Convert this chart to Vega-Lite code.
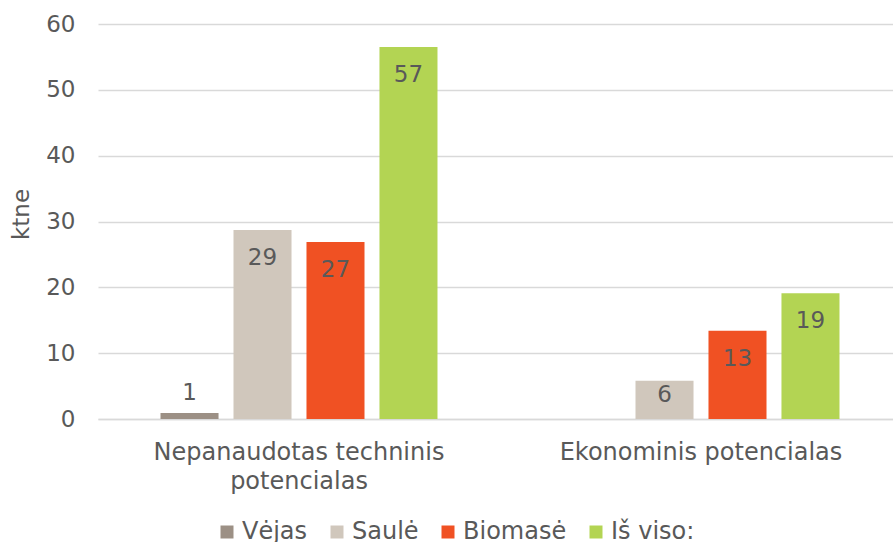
{
  "$schema": "https://vega.github.io/schema/vega-lite/v6.json",
  "autosize": "none",
  "width": 795,
  "height": 395,
  "padding": {"left": 98, "top": 24, "right": 0, "bottom": 123},
  "config": {
    "font": "DejaVu Sans",
    "view": {"stroke": null},
    "axis": {"labelColor": "#595959", "titleColor": "#595959", "labelFontSize": 23, "titleFontSize": 23, "titleFontWeight": "normal"}
  },
  "data": {
    "values": [
      {"cat": "Nepanaudotas techninis potencialas", "series": "Vėjas", "value": 0.9, "label": "1"},
      {"cat": "Nepanaudotas techninis potencialas", "series": "Saulė", "value": 28.7, "label": "29"},
      {"cat": "Nepanaudotas techninis potencialas", "series": "Biomasė", "value": 26.9, "label": "27"},
      {"cat": "Nepanaudotas techninis potencialas", "series": "Iš viso:", "value": 56.5, "label": "57"},
      {"cat": "Ekonominis potencialas", "series": "Saulė", "value": 5.8, "label": "6"},
      {"cat": "Ekonominis potencialas", "series": "Biomasė", "value": 13.4, "label": "13"},
      {"cat": "Ekonominis potencialas", "series": "Iš viso:", "value": 19.1, "label": "19"}
    ]
  },
  "encoding": {
    "x": {
      "field": "cat", "type": "nominal",
      "sort": ["Nepanaudotas techninis potencialas", "Ekonominis potencialas"],
      "scale": {"paddingInner": 0.311, "paddingOuter": 0.1555, "range": [0, 804]},
      "axis": {
        "title": null, "labelAngle": 0, "ticks": false, "domainColor": "#d9d9d9", "domainWidth": 1.5,
        "labelPadding": 21, "labelLineHeight": 29, "labelLimit": 0, "labelFontSize": 24,
        "labelExpr": "datum.value == 'Nepanaudotas techninis potencialas' ? ['Nepanaudotas techninis', 'potencialas'] : datum.value"
      }
    },
    "xOffset": {
      "field": "series", "type": "nominal",
      "scale": {"domain": ["Vėjas", "Saulė", "Biomasė", "Iš viso:"], "paddingInner": 0.205, "paddingOuter": 0}
    },
    "y": {
      "field": "value", "type": "quantitative",
      "scale": {"domain": [0, 60]},
      "axis": {
        "title": "ktne", "values": [0, 10, 20, 30, 40, 50, 60], "ticks": false, "domain": false,
        "gridColor": "#d9d9d9", "gridWidth": 1.5, "labelPadding": 23, "titlePadding": 12, "titleY": 190
      }
    }
  },
  "layer": [
    {
      "mark": {"type": "bar"},
      "encoding": {
        "color": {
          "field": "series", "type": "nominal",
          "scale": {"domain": ["Vėjas", "Saulė", "Biomasė", "Iš viso:"], "range": ["#9c9085", "#d0c7bc", "#f05123", "#b3d453"]},
          "legend": {
            "title": null, "orient": "none", "legendX": 117, "legendY": 496, "direction": "horizontal",
            "symbolType": "square", "symbolSize": 169, "symbolStrokeWidth": 0,
            "labelFontSize": 24, "labelColor": "#595959", "labelOffset": 3, "columnPadding": 17
          }
        }
      }
    },
    {
      "mark": {"type": "text", "baseline": "middle", "fontSize": 23, "color": "#595959", "dy": {"expr": "datum.value < 3 ? -20 : datum.value < 8 ? 14 : 28"}},
      "encoding": {"text": {"field": "label"}}
    }
  ]
}
